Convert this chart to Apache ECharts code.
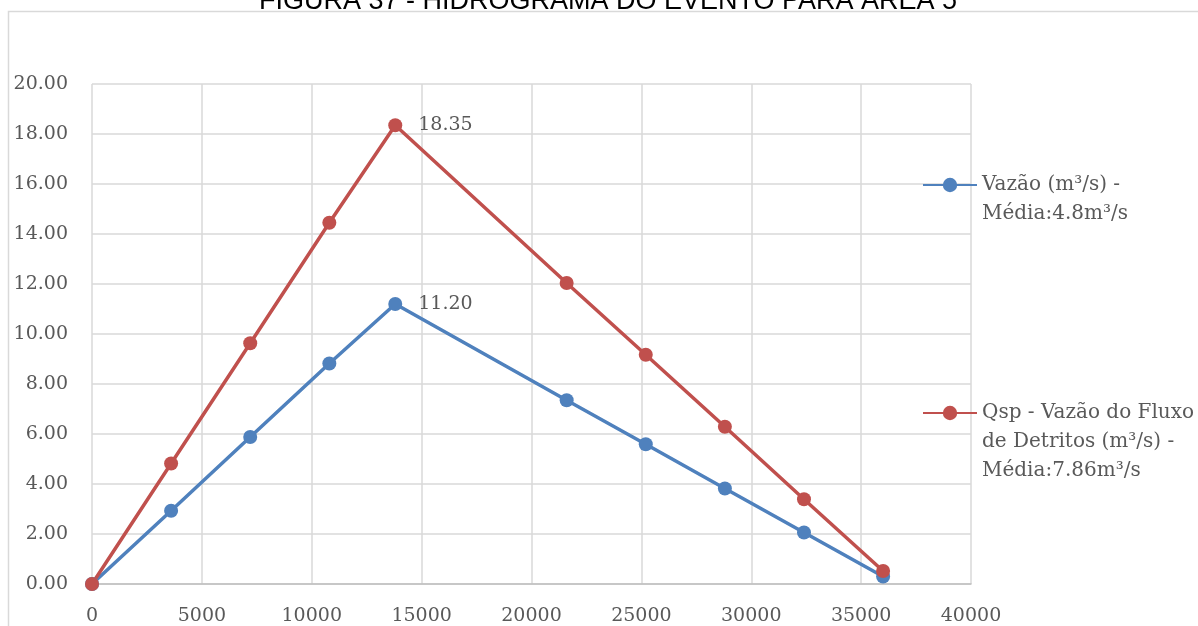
<!DOCTYPE html>
<html>
<head>
<meta charset="utf-8">
<script src="https://cdn.jsdelivr.net/npm/echarts@6/dist/echarts.min.js"></script>
<style>html,body{margin:0;padding:0;background:#fff}#c{width:1198px;height:626px}</style>
</head>
<body>
<div id="c"></div>
<script>
const titleText = 'FIGURA 37 - HIDROGRAMA DO EVENTO PARA ÁREA 5';
const timeSec = [0, 3600, 7200, 10800, 13800, 21600, 25200, 28800, 32400, 36000];
const vazao = [0, 2.93, 5.88, 8.82, 11.20, 7.35, 5.59, 3.82, 2.06, 0.30];
const qsp = [0, 4.82, 9.63, 14.45, 18.35, 12.04, 9.17, 6.29, 3.39, 0.52];
const seriesNames = ['Vazão (m³/s) - Média:4.8m³/s', 'Qsp - Vazão do Fluxo de Detritos (m³/s) - Média:7.86m³/s'];
const legendLines = [
  ['Vazão (m³/s) -', 'Média:4.8m³/s'],
  ['Qsp - Vazão do Fluxo', 'de Detritos (m³/s) -', 'Média:7.86m³/s']
];

const FONT = 'DejaVu Serif';
const GRAY = '#595959';
const chart = echarts.init(document.getElementById('c'), null, {renderer: 'canvas'});

function pairs(ys) { return ys.map((y, i) => [timeSec[i], y]); }
function peakIdx(ys) { let m = 0; ys.forEach((v, i) => { if (v > ys[m]) m = i; }); return m; }

function mkSeries(name, ys, color) {
  const pk = peakIdx(ys);
  return {
    name, type: 'line', data: pairs(ys),
    symbol: 'circle', symbolSize: 14,
    lineStyle: {width: 3.5, color}, itemStyle: {color},
    label: {
      show: true, position: 'right', distance: 16,
      fontFamily: FONT, fontSize: 19, color: GRAY,
      formatter: p => p.dataIndex === pk ? p.value[1].toFixed(2) : ''
    },
    emphasis: {disabled: true}, animation: false
  };
}

function legendFormatter(idx) {
  const lines = legendLines[idx];
  const pad = lines.length - 1;
  const arr = [];
  for (let i = 0; i < pad; i++) arr.push(' ');
  return arr.concat(lines).join('\n');
}

const LH = 29;
chart.setOption({
  animation: false,
  graphic: [
    {type: 'rect', shape: {x: 8.5, y: 11.5, width: 1300, height: 700}, style: {fill: 'none', stroke: '#d9d9d9', lineWidth: 1.5}, silent: true},
    {type: 'text', x: 608, y: 2, style: {text: titleText, font: '27px "Liberation Sans", Arial, sans-serif', fill: '#000', textAlign: 'center', textVerticalAlign: 'middle'}, silent: true}
  ],
  grid: {left: 92, right: 227, top: 84, bottom: 42, containLabel: false},
  xAxis: {
    type: 'value', min: 0, max: 40000, interval: 5000,
    axisLine: {show: true, lineStyle: {color: '#bfbfbf', width: 1.5}},
    axisTick: {show: false},
    splitLine: {show: true, lineStyle: {color: '#d9d9d9', width: 1.5}},
    axisLabel: {fontFamily: FONT, fontSize: 19, color: GRAY, margin: 23, formatter: v => String(v)}
  },
  yAxis: {
    type: 'value', min: 0, max: 20, interval: 2,
    axisLine: {show: false}, axisTick: {show: false},
    splitLine: {show: true, lineStyle: {color: '#d9d9d9', width: 1.5}},
    axisLabel: {fontFamily: FONT, fontSize: 19, color: GRAY, margin: 24, formatter: v => v.toFixed(2)}
  },
  legend: [0, 1].map(i => ({
    data: [seriesNames[i]],
    orient: 'vertical',
    left: 922,
    top: (i === 0 ? 185 : 413) - (legendLines[i].length * 2 - 1) * LH / 2,
    padding: 0,
    itemWidth: 54, itemHeight: 18, itemGap: 0,
    selectedMode: false,
    formatter: () => legendFormatter(i),
    textStyle: {fontFamily: FONT, fontSize: 20, color: GRAY, lineHeight: LH}
  })),
  series: [
    mkSeries(seriesNames[0], vazao, '#4F81BD'),
    mkSeries(seriesNames[1], qsp, '#C0504D')
  ]
});
</script>
</body>
</html>
